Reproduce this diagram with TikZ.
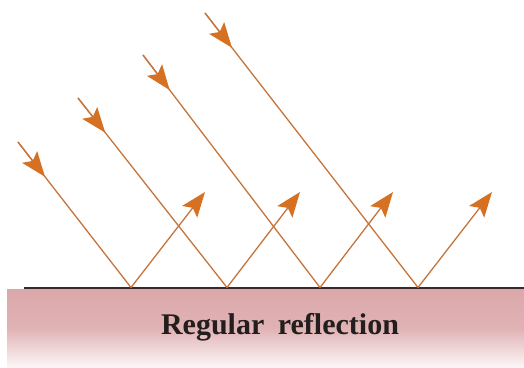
\documentclass[tikz,border=0pt]{standalone}
\usepackage{fontspec}
\setmainfont{Liberation Serif}
\usetikzlibrary{arrows.meta,calc}
\definecolor{rayline}{RGB}{198,116,58}
\definecolor{rayfill}{RGB}{214,112,34}
\definecolor{pinktop}{RGB}{219,168,170}
\definecolor{pinkmid}{RGB}{224,178,180}
\definecolor{pinkbot}{RGB}{252,246,246}
\definecolor{surf}{RGB}{55,42,42}
\definecolor{captxt}{RGB}{35,30,30}
\begin{document}
\begin{tikzpicture}[x=1pt,y=1pt,
  ray/.style={draw=rayline,line width=1.3pt},
  rayhead/.style={draw=rayline,line width=1.3pt,-{Stealth[length=25pt,width=19pt,inset=5pt,fill=rayfill,color=rayfill]}},
  lbl/.style={font=\bfseries\fontsize{30}{33}\selectfont,text=captxt,inner sep=0pt,anchor=base}]
\useasboundingbox (0,0) rectangle (524,367);
% band
\shade[top color=pinktop,bottom color=pinkbot,middle color=pinkmid] (7,0) rectangle (524,78);
% surface
\coordinate (sl) at (24,79);
\coordinate (sr) at (524,79);
\draw[surf,line width=1.4pt] (sl) -- (sr);
% points
\coordinate (s1) at (18,225);
\coordinate (s2) at (78,269);
\coordinate (s3) at (143,312);
\coordinate (s4) at (205,354);
\coordinate (h1) at (131,79.5);
\coordinate (h2) at (227,79.5);
\coordinate (h3) at (320,79.5);
\coordinate (h4) at (418,79.5);
\coordinate (r1) at (205,175);
\coordinate (r2) at (300,175);
\coordinate (r3) at (393,175);
\coordinate (r4) at (492,175);
\foreach \i in {1,2,3,4}{
  \draw[ray] (s\i) -- (h\i);
  \draw[rayhead] (s\i) -- ($(s\i)!44pt!(h\i)$);
  \draw[rayhead] (h\i) -- (r\i);
}
\node[lbl] (cap) at (280,33) {Regular\hspace{0.45em}reflection};
\end{tikzpicture}
\end{document}
